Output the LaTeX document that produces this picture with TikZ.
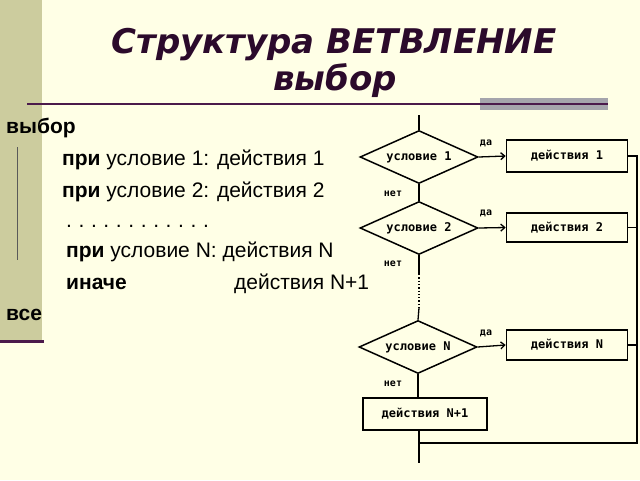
\documentclass[tikz,border=0pt]{standalone}
\usepackage{fontspec}
\setmainfont{Liberation Sans}
\newfontfamily\titlefont{DejaVu Sans}
\newfontfamily\fcfont{DejaVu Sans Mono}
\usetikzlibrary{shapes.geometric,arrows.meta}
\definecolor{bg}{RGB}{255,255,230}
\definecolor{bar}{RGB}{204,204,158}
\definecolor{ttl}{RGB}{43,10,43}
\definecolor{rule}{RGB}{75,26,75}
\definecolor{grayrect}{RGB}{165,165,172}
\newcommand\dg{.\hspace{6.6pt}}
\tikzset{
  ltext/.style={anchor=base west, inner sep=0pt, font=\fontsize{21}{25}\selectfont},
  cond/.style={shape=diamond, draw, line width=1.5pt, aspect=2.23, minimum width=118pt, minimum height=53pt, inner sep=0pt, font=\fcfont\bfseries\fontsize{12}{14}\selectfont},
  actbox/.style={draw, line width=1.6pt, inner sep=0pt, font=\fcfont\bfseries\fontsize{12}{14}\selectfont},
  flow/.style={line width=1.3pt},
  arr/.style={line width=1.3pt, -{Straight Barb[length=4pt,width=7pt]}},
  lbl/.style={inner sep=0pt, font=\fcfont\bfseries\fontsize{10}{12}\selectfont}
}
\begin{document}
\begin{tikzpicture}[x=1pt,y=-1pt]
\useasboundingbox (0,0) rectangle (640,480);
\fill[bg] (0,0) rectangle (640,480);
\fill[bar] (0,0) rectangle (42,340);
\fill[rule] (0,339.5) rectangle (44,342.5);
% title
\node[text=ttl, font=\titlefont\bfseries\itshape\fontsize{34}{40}\selectfont, anchor=base] (t1) at (334,53) {Структура ВЕТВЛЕНИЕ};
\node[text=ttl, font=\titlefont\bfseries\itshape\fontsize{34}{40}\selectfont, anchor=base] (t2) at (335,90) {выбор};
\fill[grayrect] (480,98) rectangle (608,110);
\fill[rule] (27,103) rectangle (608,105);
% left text
\node[ltext] (w) at (6,133) {\textbf{выбор}};
\draw[gray!70!black, line width=0.8pt] (17,147) -- (17,260);
\node[ltext] (p1) at (62,165) {\textbf{при} условие 1: действия 1};
\node[ltext] (p2) at (62,197) {\textbf{при} условие 2: действия 2};
\node[ltext] (dots) at (66,227) {\dg\dg\dg\dg\dg\dg\dg\dg\dg\dg\dg.};
\node[ltext] (pN) at (66,257) {\textbf{при} условие N: действия N};
\node[ltext] (els) at (66,289) {\textbf{иначе}};
\node[ltext] (elsa) at (234,289) {действия N+1};
\node[ltext] (v) at (6,320) {\textbf{все}};
% flowchart
\coordinate (top) at (419,115);
\node[cond] (d1) at (419,157) {условие 1};
\node[cond] (d2) at (419,228) {условие 2};
\node[cond] (dN) at (418,347) {условие N};
\node[actbox, minimum width=121pt, minimum height=32pt] (b1) at (567,156) {действия 1};
\node[actbox, minimum width=121pt, minimum height=29pt] (b2) at (567,227.5) {действия 2};
\node[actbox, minimum width=121pt, minimum height=30pt] (bN) at (567,345) {действия N};
\node[actbox, minimum width=124pt, minimum height=32pt, line width=2pt] (bE) at (425,414) {действия N+1};
\coordinate (R) at (637,443);
\coordinate (J) at (419,443);
\coordinate (bot) at (419,463);
\coordinate (ds) at (419,274);
\coordinate (de) at (419,308);
\draw[flow] (top) -- (d1.north);
\draw[arr] (d1.east) -- (b1.west);
\draw[arr] (d2.east) -- (b2.west);
\draw[arr] (dN.east) -- (bN.west);
\draw[flow] (d1.south) -- (d2.north);
\draw[flow] (d2.south) -- (ds);
\draw[flow, dotted] (ds) -- (de);
\draw[flow] (de) -- (dN.north);
\draw[flow] (dN.south) -- (dN.south |- bE.north);
\draw[flow] (bE.south -| bot) -- (bot);
\draw[flow] (b1.east) -| (R) -- (J);
\draw[flow] (b2.east) -- (b2.east -| R);
\draw[flow] (bN.east) -- (bN.east -| R);
\node[lbl] (y1) at (486,143) {да};
\node[lbl] (y2) at (486,213) {да};
\node[lbl] (y3) at (486,333) {да};
\node[lbl] (n1) at (393,194) {нет};
\node[lbl] (n2) at (393,264) {нет};
\node[lbl] (n3) at (393,384) {нет};
\end{tikzpicture}
\end{document}
